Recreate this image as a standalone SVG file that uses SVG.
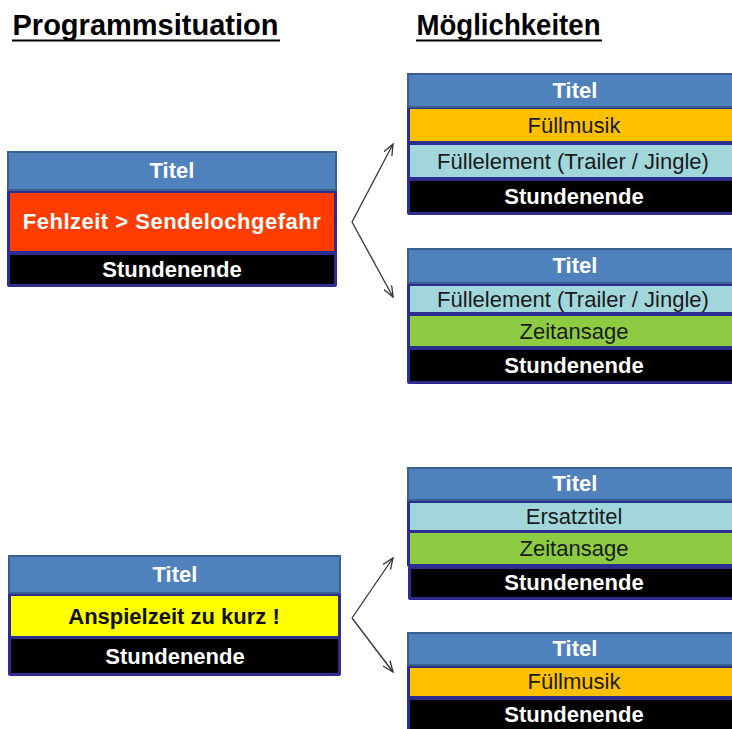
<svg xmlns="http://www.w3.org/2000/svg" width="732" height="729" viewBox="0 0 732 729">
<defs>
<style>
.cont{fill:#2c2d8e;}
.title{fill:#4f81bd;stroke:#3a6090;stroke-width:2;}
.red{fill:#ff3d00;}
.gold{fill:#ffc000;}
.cyan{fill:#a1d7da;}
.green{fill:#8dcb43;}
.yellow{fill:#ffff00;}
.black{fill:#000;}
.tb{font-family:"Liberation Sans",Arial,sans-serif;font-weight:bold;font-size:22px;fill:#fff;text-anchor:middle;}
.tbk{font-family:"Liberation Sans",Arial,sans-serif;font-weight:bold;font-size:22px;fill:#111;text-anchor:middle;}
.tr{font-family:"Liberation Sans",Arial,sans-serif;font-size:22px;fill:#1a1a1a;text-anchor:middle;}
.head{font-family:"Liberation Sans",Arial,sans-serif;font-weight:bold;font-size:30px;fill:#000;}
.ul{stroke:#000;stroke-width:2;}
.arr{stroke:#333;stroke-width:1.3;fill:none;marker-end:url(#ah);}
</style>
<marker id="ah" viewBox="0 0 12 10" refX="11" refY="5" markerWidth="12" markerHeight="10" markerUnits="userSpaceOnUse" orient="auto">
<polyline points="0,0.5 11,5 0,9.5" fill="none" stroke="#333" stroke-width="1.3"/>
</marker>
</defs>

<g id="headings">
<text class="head" x="12.5" y="35" textLength="266" lengthAdjust="spacingAndGlyphs">Programmsituation</text>
<line class="ul" x1="12" y1="40.5" x2="280" y2="40.5"/>
<text class="head" x="416.5" y="35" textLength="184" lengthAdjust="spacingAndGlyphs">Möglichkeiten</text>
<line class="ul" x1="416" y1="40.5" x2="602" y2="40.5"/>
</g>

<g id="situation1">
<rect class="cont" x="7" y="151" width="330" height="136" rx="2"/>
<rect class="title" x="8" y="152" width="328" height="38"/>
<rect class="red" x="10" y="193" width="324" height="58"/>
<rect class="black" x="10" y="255" width="324" height="29"/>
<text class="tb" x="172" y="178">Titel</text>
<text class="tb" x="172" y="229" letter-spacing="0.5">Fehlzeit &gt; Sendelochgefahr</text>
<text class="tb" x="172" y="277">Stundenende</text>
</g>

<g id="option1a">
<rect class="cont" x="407" y="73" width="340" height="142" rx="2"/>
<rect class="title" x="408" y="74" width="338" height="33"/>
<rect class="gold" x="410" y="109" width="334" height="32"/>
<rect class="cyan" x="410" y="145" width="334" height="32"/>
<rect class="black" x="410" y="181" width="334" height="31"/>
<text class="tb" x="575" y="98">Titel</text>
<text class="tr" x="574" y="133">Füllmusik</text>
<text class="tr" x="573" y="169">Füllelement (Trailer / Jingle)</text>
<text class="tb" x="574" y="204">Stundenende</text>
</g>

<g id="option1b">
<rect class="cont" x="407" y="248" width="340" height="136" rx="2"/>
<rect class="title" x="408" y="249" width="338" height="34"/>
<rect class="cyan" x="410" y="286" width="334" height="26"/>
<rect class="green" x="410" y="316" width="334" height="30"/>
<rect class="black" x="410" y="350" width="334" height="31"/>
<text class="tb" x="575" y="273">Titel</text>
<text class="tr" x="573" y="307">Füllelement (Trailer / Jingle)</text>
<text class="tr" x="574" y="339">Zeitansage</text>
<text class="tb" x="574" y="373">Stundenende</text>
</g>

<g id="situation2">
<rect class="cont" x="8" y="555" width="333" height="121" rx="2"/>
<rect class="title" x="9" y="556" width="331" height="37"/>
<rect class="yellow" x="11" y="596" width="327" height="40"/>
<rect class="black" x="11" y="639" width="327" height="34"/>
<text class="tb" x="175" y="582">Titel</text>
<text class="tbk" x="174" y="624">Anspielzeit zu kurz !</text>
<text class="tb" x="175" y="664">Stundenende</text>
</g>

<g id="option2a">
<rect class="cont" x="407" y="467" width="340" height="100" rx="2"/>
<rect class="title" x="408" y="468" width="338" height="32"/>
<rect class="cyan" x="410" y="503" width="334" height="27"/>
<rect class="green" x="410" y="533" width="334" height="31"/>
<rect class="cont" x="408" y="566" width="340" height="34" rx="2"/>
<rect class="black" x="411" y="569" width="334" height="28"/>
<text class="tb" x="575" y="491">Titel</text>
<text class="tr" x="574" y="524">Ersatztitel</text>
<text class="tr" x="574" y="556">Zeitansage</text>
<text class="tb" x="574" y="590">Stundenende</text>
</g>

<g id="option2b">
<rect class="cont" x="407" y="632" width="340" height="110" rx="2"/>
<rect class="title" x="408" y="633" width="338" height="32"/>
<rect class="gold" x="410" y="668" width="334" height="28"/>
<rect class="black" x="410" y="700" width="334" height="40"/>
<text class="tb" x="575" y="656">Titel</text>
<text class="tr" x="574" y="689">Füllmusik</text>
<text class="tb" x="574" y="722">Stundenende</text>
</g>

<g id="connectors">
<polyline class="arr" points="352,222 393,144"/>
<polyline class="arr" points="352,222 393,297"/>
<polyline class="arr" points="352,618 393,558"/>
<polyline class="arr" points="352,618 393,672"/>
</g>
</svg>
